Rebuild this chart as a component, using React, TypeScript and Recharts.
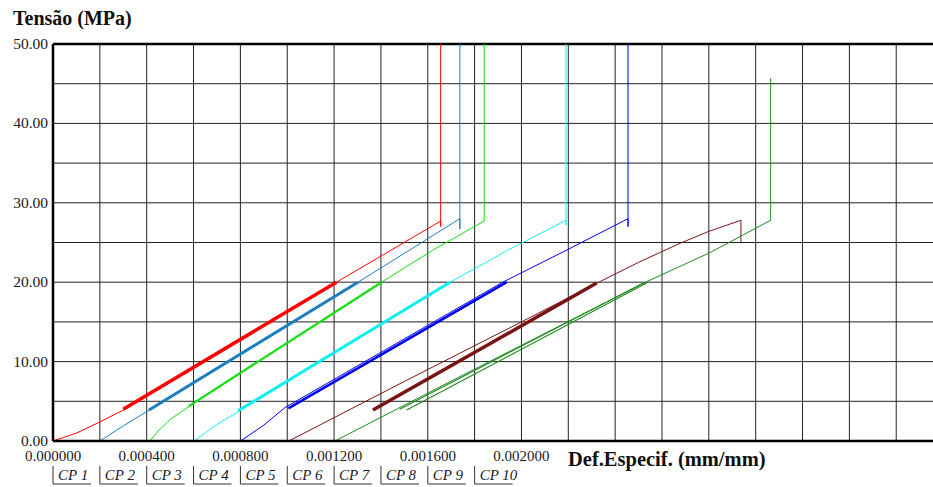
import React from "react";
import {
  LineChart,
  Line,
  XAxis,
  YAxis,
  CartesianGrid,
  ReferenceLine,
} from "recharts";

// strain (mm/mm), stress (MPa) pairs for each specimen
// "load" = first loading + final loading up to rupture, "cycle" = repeated 4-20 MPa cycles
const cp1Load: [number, number][] = [
  [0, 0], [0.0001, 1.0], [0.0002, 2.4], [0.000307, 4.0], [0.00121, 20.0],
  [0.00143, 23.8], [0.001655, 27.7], [0.001655, 27.0], [0.001655, 50],
];
const cp1Cycle: [number, number][] = [[0.0003, 4.0], [0.00121, 20.0]];

const cp2Load: [number, number][] = [
  [0.0002, 0], [0.0003, 1.9], [0.0004, 3.7], [0.001302, 20.0],
  [0.00152, 24.0], [0.001737, 28.0], [0.001737, 26.7], [0.001737, 50],
];
const cp2Cycle: [number, number][] = [[0.00041, 3.9], [0.001302, 20.0]];

const cp3Load: [number, number][] = [
  [0.000414, 0], [0.00045, 1.3], [0.0005, 2.7], [0.000613, 5.0],
  [0.001403, 20.0], [0.00162, 24.0], [0.001841, 27.7], [0.001841, 50],
];
const cp3Cycle: [number, number][] = [[0.00058, 4.4], [0.001403, 20.0]];

const cp4Load: [number, number][] = [
  [0.000603, 0], [0.0007, 2.1], [0.000803, 3.9], [0.001695, 20.0],
  [0.00194, 24.0], [0.00219, 27.8], [0.00219, 27.2], [0.00219, 50],
];
const cp4Cycle: [number, number][] = [[0.00079, 3.8], [0.001695, 20.0]];

const cp5Load: [number, number][] = [
  [0.000801, 0], [0.0009, 2.0], [0.00099, 4.2], [0.00192, 20.0],
  [0.00219, 24.0], [0.002455, 28.0], [0.002455, 27.0], [0.002455, 50],
];
const cp5Cycle: [number, number][] = [[0.001005, 4.1], [0.001937, 20.0]];

const cp6Load: [number, number][] = [
  [0.001007, 0], [0.0015, 7.5], [0.002, 15.0], [0.00233, 20.0],
  [0.0025, 22.5], [0.002677, 24.9], [0.0028, 26.4], [0.002937, 27.8],
  [0.002937, 24.9],
];
const cp6Cycle: [number, number][] = [[0.001366, 3.9], [0.00185, 12.0], [0.002321, 19.9]];

const cp7Load: [number, number][] = [
  [0.001204, 0], [0.00173, 8.0], [0.00253, 20.0], [0.00281, 23.8],
  [0.003064, 27.8], [0.003064, 45.7],
];
const cp7Cycle: [number, number][] = [
  [0.00151, 3.9], [0.002534, 19.9], [0.00252, 19.9], [0.00148, 4.0],
];

const strainTicks = [
  0, 0.0002, 0.0004, 0.0006, 0.0008, 0.001, 0.0012, 0.0014, 0.0016, 0.0018,
  0.002, 0.0022, 0.0024, 0.0026, 0.0028, 0.003, 0.0032, 0.0034, 0.0036,
];
const labelledStrains = [0, 0.0004, 0.0008, 0.0012, 0.0016, 0.002];
const stressTicks = [0, 5, 10, 15, 20, 25, 30, 35, 40, 45, 50];
const legendNames = ["CP 1", "CP 2", "CP 3", "CP 4", "CP 5", "CP 6", "CP 7", "CP 8", "CP 9", "CP 10"];

const toPts = (arr: [number, number][]) => arr.map(([x, y]) => ({ x, y }));

const series = [
  { key: "cp1", color: "#ff0000", load: cp1Load, cycle: cp1Cycle, band: 3.5 },
  { key: "cp2", color: "#1a7fc0", load: cp2Load, cycle: cp2Cycle, band: 3 },
  { key: "cp3", color: "#10e010", load: cp3Load, cycle: cp3Cycle, band: 2.2 },
  { key: "cp4", color: "#10f0f0", load: cp4Load, cycle: cp4Cycle, band: 3 },
  { key: "cp5", color: "#0000f0", load: cp5Load, cycle: cp5Cycle, band: 2.5 },
  { key: "cp6", color: "#7a1414", load: cp6Load, cycle: cp6Cycle, band: 3.5 },
  { key: "cp7", color: "#1f8a1f", load: cp7Load, cycle: cp7Cycle, band: 1.2 },
];

const FONT = "'Liberation Serif', 'Times New Roman', serif";
const X_MAX = 0.003757;
const GRID_STEP = 46.85; // px per 0.0002 strain

const StrainTick = (props: any) => {
  const { x, y, payload } = props;
  const v = payload.value;
  const show = labelledStrains.some((l) => Math.abs(l - v) < 1e-9);
  if (!show) return null;
  return (
    <text x={x} y={y + 20} textAnchor="middle" fontFamily={FONT} fontSize={15} fill="#1a1a24">
      {v.toFixed(6)}
    </text>
  );
};

const StressTick = (props: any) => {
  const { x, y, payload } = props;
  if (payload.value % 10 !== 0) return null;
  return (
    <text x={x} y={y + 5} textAnchor="end" fontFamily={FONT} fontSize={15.5} fill="#1a1a24">
      {payload.value.toFixed(2)}
    </text>
  );
};

export default function App() {
  return (
    <div style={{ position: "absolute", left: 0, top: 0, width: 933, height: 487, overflow: "hidden", background: "#fff" }}>
      <LineChart width={933} height={487} margin={{ top: 44, right: 0, bottom: 16, left: 8 }}>
        <CartesianGrid stroke="#222" strokeWidth={1} horizontalValues={stressTicks} verticalValues={strainTicks} />
        <XAxis
          dataKey="x"
          type="number"
          domain={[0, X_MAX]}
          ticks={strainTicks}
          interval={0}
          allowDataOverflow
          height={30}
          tickSize={0}
          tickMargin={0}
          tick={<StrainTick />}
          axisLine={{ stroke: "#000", strokeWidth: 2.5 }}
        />
        <YAxis
          type="number"
          domain={[0, 50]}
          ticks={stressTicks}
          interval={0}
          allowDataOverflow
          width={45}
          tickSize={0}
          tickMargin={5}
          tick={<StressTick />}
          axisLine={{ stroke: "#000", strokeWidth: 2.5 }}
        />
        <ReferenceLine y={50} stroke="#000" strokeWidth={2.5} />
        {series.map((s) => (
          <Line
            key={s.key + "-load"}
            data={toPts(s.load)}
            dataKey="y"
            type="linear"
            stroke={s.color}
            strokeWidth={1}
            dot={false}
            activeDot={false}
            isAnimationActive={false}
          />
        ))}
        {series.map((s) => (
          <Line
            key={s.key + "-cycle"}
            data={toPts(s.cycle)}
            dataKey="y"
            type="linear"
            stroke={s.color}
            strokeWidth={s.band}
            dot={false}
            activeDot={false}
            isAnimationActive={false}
          />
        ))}
      </LineChart>
      <svg
        width={933}
        height={487}
        style={{ position: "absolute", left: 0, top: 0, pointerEvents: "none" }}
      >
        <text x={13} y={25} fontFamily={FONT} fontSize={20} fontWeight="bold" fill="#111">
          Tensão (MPa)
        </text>
        <text x={568} y={466} fontFamily={FONT} fontSize={20.5} fontWeight="bold" fill="#111">
          Def.Especif. (mm/mm)
        </text>
        {legendNames.map((name, i) => {
          const left = 53 + i * GRID_STEP;
          return (
            <g key={name}>
              <line x1={left} y1={466} x2={left} y2={484} stroke="#333" strokeWidth={1} />
              <line x1={left} y1={484} x2={left + 38} y2={484} stroke="#333" strokeWidth={1} />
              <text x={left + 5} y={480} fontFamily={FONT} fontSize={15} fontStyle="italic" fill="#1a1a24">
                {name}
              </text>
            </g>
          );
        })}
      </svg>
    </div>
  );
}
